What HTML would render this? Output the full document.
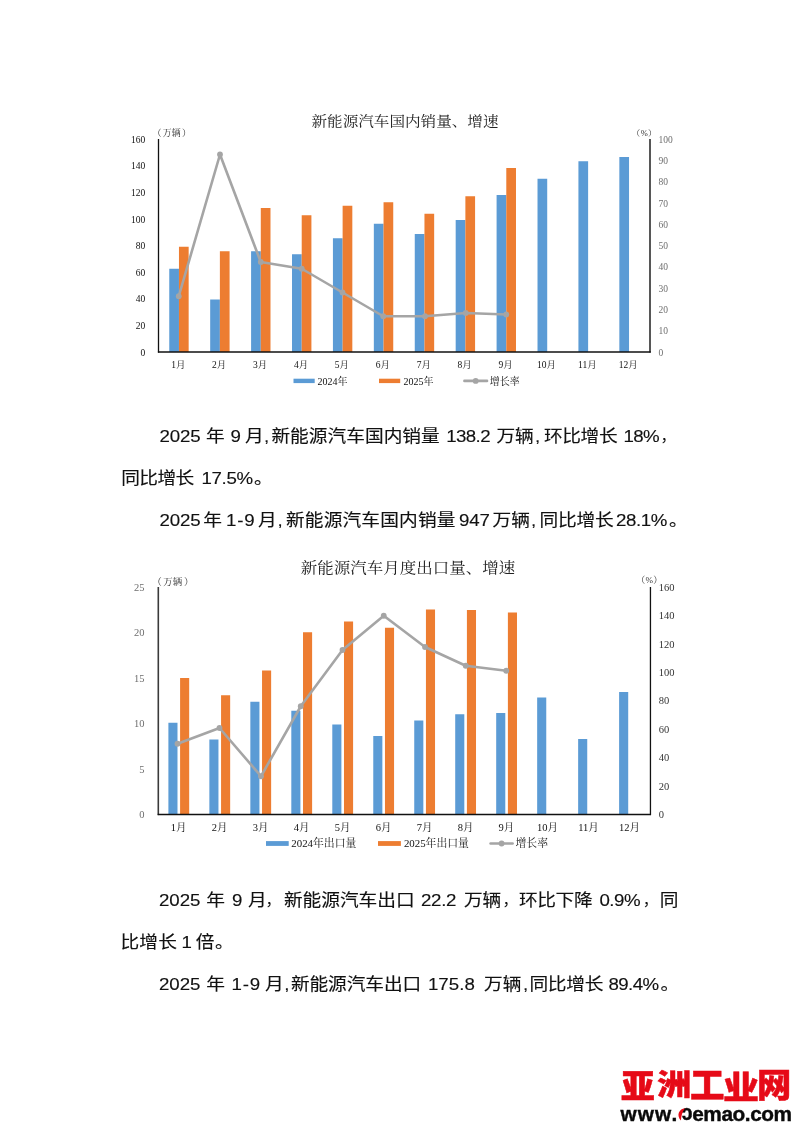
<!DOCTYPE html>
<html lang="zh-CN">
<head>
<meta charset="utf-8">
<title>新能源汽车国内销量、出口量</title>
<style>
html,body{margin:0;padding:0;background:#fff;}
body{width:800px;height:1131px;position:relative;overflow:hidden;}
svg{position:absolute;left:0;top:0;}
svg text{font-family:"Liberation Serif","Noto Serif CJK SC",serif;}
.ln{position:absolute;left:0;top:0;width:800px;height:0;font-family:"Liberation Sans","Noto Sans CJK SC",sans-serif;font-size:18.7px;line-height:24px;color:#111;transform:scaleY(0.925);transform-origin:0 18px;-webkit-text-stroke:0.15px #111;}
.ln span{position:absolute;white-space:nowrap;}
#logo1{position:absolute;font-family:"Liberation Sans","Noto Sans CJK SC",sans-serif;font-weight:900;color:#e60a17;white-space:nowrap;}
#logo2{position:absolute;font-family:"Liberation Sans","Noto Sans CJK SC",sans-serif;font-weight:700;color:#0a0a0a;white-space:nowrap;}
</style>
</head>
<body>

<svg width="800" height="1131" viewBox="0 0 800 1131">
<rect x="169.26" y="268.75" width="9.7" height="83.25" fill="#5b9bd5"/>
<rect x="210.18" y="299.5" width="9.7" height="52.5" fill="#5b9bd5"/>
<rect x="251.09" y="251.25" width="9.7" height="100.75" fill="#5b9bd5"/>
<rect x="292.01" y="254.25" width="9.7" height="97.75" fill="#5b9bd5"/>
<rect x="332.93" y="238.25" width="9.7" height="113.75" fill="#5b9bd5"/>
<rect x="373.84" y="223.75" width="9.7" height="128.25" fill="#5b9bd5"/>
<rect x="414.76" y="234" width="9.7" height="118" fill="#5b9bd5"/>
<rect x="455.68" y="220" width="9.7" height="132" fill="#5b9bd5"/>
<rect x="496.59" y="195" width="9.7" height="157" fill="#5b9bd5"/>
<rect x="537.51" y="178.75" width="9.7" height="173.25" fill="#5b9bd5"/>
<rect x="578.42" y="161.25" width="9.7" height="190.75" fill="#5b9bd5"/>
<rect x="619.34" y="157" width="9.7" height="195" fill="#5b9bd5"/>
<rect x="178.96" y="246.75" width="9.7" height="105.25" fill="#ed7d31"/>
<rect x="219.88" y="251.25" width="9.7" height="100.75" fill="#ed7d31"/>
<rect x="260.79" y="208" width="9.7" height="144" fill="#ed7d31"/>
<rect x="301.71" y="215.25" width="9.7" height="136.75" fill="#ed7d31"/>
<rect x="342.62" y="205.75" width="9.7" height="146.25" fill="#ed7d31"/>
<rect x="383.54" y="202.25" width="9.7" height="149.75" fill="#ed7d31"/>
<rect x="424.46" y="213.75" width="9.7" height="138.25" fill="#ed7d31"/>
<rect x="465.38" y="196.25" width="9.7" height="155.75" fill="#ed7d31"/>
<rect x="506.29" y="168" width="9.7" height="184" fill="#ed7d31"/>
<line x1="158.5" y1="139" x2="158.5" y2="352.6" stroke="#111" stroke-width="1.3"/>
<line x1="650" y1="139" x2="650" y2="352.6" stroke="#454545" stroke-width="1.8"/>
<line x1="157.9" y1="352" x2="650.8" y2="352" stroke="#111" stroke-width="1.5"/>
<polyline points="178.75,296.25 220,154.5 260.75,262 301.75,268.75 342.5,292.5 383.25,316.25 425,316.25 465.75,313 506.25,314.5" fill="none" stroke="#a5a5a5" stroke-width="2.6" stroke-linejoin="round" stroke-linecap="round"/>
<circle cx="178.75" cy="296.25" r="2.9" fill="#a5a5a5"/>
<circle cx="220" cy="154.5" r="2.9" fill="#a5a5a5"/>
<circle cx="260.75" cy="262" r="2.9" fill="#a5a5a5"/>
<circle cx="301.75" cy="268.75" r="2.9" fill="#a5a5a5"/>
<circle cx="342.5" cy="292.5" r="2.9" fill="#a5a5a5"/>
<circle cx="383.25" cy="316.25" r="2.9" fill="#a5a5a5"/>
<circle cx="425" cy="316.25" r="2.9" fill="#a5a5a5"/>
<circle cx="465.75" cy="313" r="2.9" fill="#a5a5a5"/>
<circle cx="506.25" cy="314.5" r="2.9" fill="#a5a5a5"/>
<text transform="translate(405 126.2) scale(1 0.9)" font-size="15.6" text-anchor="middle" fill="#222">新能源汽车国内销量、增速</text>
<text x="145.3" y="142.63" font-size="9.5" text-anchor="end" fill="#111">160</text>
<text x="145.3" y="169.26" font-size="9.5" text-anchor="end" fill="#111">140</text>
<text x="145.3" y="195.88" font-size="9.5" text-anchor="end" fill="#111">120</text>
<text x="145.3" y="222.51" font-size="9.5" text-anchor="end" fill="#111">100</text>
<text x="145.3" y="249.13" font-size="9.5" text-anchor="end" fill="#111">80</text>
<text x="145.3" y="275.76" font-size="9.5" text-anchor="end" fill="#111">60</text>
<text x="145.3" y="302.38" font-size="9.5" text-anchor="end" fill="#111">40</text>
<text x="145.3" y="329.01" font-size="9.5" text-anchor="end" fill="#111">20</text>
<text x="145.3" y="355.63" font-size="9.5" text-anchor="end" fill="#111">0</text>
<text x="658.5" y="142.63" font-size="9.5" text-anchor="start" fill="#6e6e6e">100</text>
<text x="658.5" y="163.94" font-size="9.5" text-anchor="start" fill="#6e6e6e">90</text>
<text x="658.5" y="185.23" font-size="9.5" text-anchor="start" fill="#6e6e6e">80</text>
<text x="658.5" y="206.53" font-size="9.5" text-anchor="start" fill="#6e6e6e">70</text>
<text x="658.5" y="227.83" font-size="9.5" text-anchor="start" fill="#6e6e6e">60</text>
<text x="658.5" y="249.13" font-size="9.5" text-anchor="start" fill="#6e6e6e">50</text>
<text x="658.5" y="270.44" font-size="9.5" text-anchor="start" fill="#6e6e6e">40</text>
<text x="658.5" y="291.74" font-size="9.5" text-anchor="start" fill="#6e6e6e">30</text>
<text x="658.5" y="313.03" font-size="9.5" text-anchor="start" fill="#6e6e6e">20</text>
<text x="658.5" y="334.33" font-size="9.5" text-anchor="start" fill="#6e6e6e">10</text>
<text x="658.5" y="355.63" font-size="9.5" text-anchor="start" fill="#6e6e6e">0</text>
<text x="171.7" y="136.2" font-size="9" text-anchor="middle" fill="#333">（<tspan dx="1.2">万辆</tspan><tspan dx="1.2">）</tspan></text>
<text x="644.2" y="136.3" font-size="8.5" text-anchor="middle" fill="#333">（<tspan dx="0.3">%</tspan><tspan dx="0.3">）</tspan></text>
<text x="178.26" y="368.3" font-size="9.5" text-anchor="middle" fill="#111">1月</text>
<text x="219.18" y="368.3" font-size="9.5" text-anchor="middle" fill="#111">2月</text>
<text x="260.09" y="368.3" font-size="9.5" text-anchor="middle" fill="#111">3月</text>
<text x="301.01" y="368.3" font-size="9.5" text-anchor="middle" fill="#111">4月</text>
<text x="341.93" y="368.3" font-size="9.5" text-anchor="middle" fill="#111">5月</text>
<text x="382.84" y="368.3" font-size="9.5" text-anchor="middle" fill="#111">6月</text>
<text x="423.76" y="368.3" font-size="9.5" text-anchor="middle" fill="#111">7月</text>
<text x="464.68" y="368.3" font-size="9.5" text-anchor="middle" fill="#111">8月</text>
<text x="505.59" y="368.3" font-size="9.5" text-anchor="middle" fill="#111">9月</text>
<text x="546.51" y="368.3" font-size="9.5" text-anchor="middle" fill="#111">10月</text>
<text x="587.42" y="368.3" font-size="9.5" text-anchor="middle" fill="#111">11月</text>
<text x="628.34" y="368.3" font-size="9.5" text-anchor="middle" fill="#111">12月</text>
<rect x="293.5" y="378.7" width="21.2" height="4.4" fill="#5b9bd5"/>
<text x="317.6" y="384.5" font-size="10" text-anchor="start" fill="#111">2024年</text>
<rect x="379" y="378.7" width="21.2" height="4.4" fill="#ed7d31"/>
<text x="403.4" y="384.5" font-size="10" text-anchor="start" fill="#111">2025年</text>
<line x1="464.4" y1="380.9" x2="487" y2="380.9" stroke="#a5a5a5" stroke-width="2.6" stroke-linecap="round"/>
<circle cx="475.7" cy="380.9" r="2.9" fill="#a5a5a5"/>
<text x="489.8" y="384.5" font-size="10" text-anchor="start" fill="#111">增长率</text>
</svg>
<svg width="800" height="1131" viewBox="0 0 800 1131">
<rect x="168.39" y="722.75" width="9.1" height="91.75" fill="#5b9bd5"/>
<rect x="209.36" y="739.5" width="9.1" height="75" fill="#5b9bd5"/>
<rect x="250.34" y="701.75" width="9.1" height="112.75" fill="#5b9bd5"/>
<rect x="291.31" y="710.75" width="9.1" height="103.75" fill="#5b9bd5"/>
<rect x="332.29" y="724.5" width="9.1" height="90" fill="#5b9bd5"/>
<rect x="373.26" y="736" width="9.1" height="78.5" fill="#5b9bd5"/>
<rect x="414.24" y="720.5" width="9.1" height="94" fill="#5b9bd5"/>
<rect x="455.21" y="714.25" width="9.1" height="100.25" fill="#5b9bd5"/>
<rect x="496.19" y="713" width="9.1" height="101.5" fill="#5b9bd5"/>
<rect x="537.16" y="697.5" width="9.1" height="117" fill="#5b9bd5"/>
<rect x="578.14" y="739" width="9.1" height="75.5" fill="#5b9bd5"/>
<rect x="619.11" y="692" width="9.1" height="122.5" fill="#5b9bd5"/>
<rect x="180.09" y="678" width="9.1" height="136.5" fill="#ed7d31"/>
<rect x="221.06" y="695.25" width="9.1" height="119.25" fill="#ed7d31"/>
<rect x="262.04" y="670.5" width="9.1" height="144" fill="#ed7d31"/>
<rect x="303.01" y="632.25" width="9.1" height="182.25" fill="#ed7d31"/>
<rect x="343.99" y="621.5" width="9.1" height="193" fill="#ed7d31"/>
<rect x="384.96" y="627.75" width="9.1" height="186.75" fill="#ed7d31"/>
<rect x="425.94" y="609.5" width="9.1" height="205" fill="#ed7d31"/>
<rect x="466.91" y="610" width="9.1" height="204.5" fill="#ed7d31"/>
<rect x="507.89" y="612.5" width="9.1" height="202" fill="#ed7d31"/>
<line x1="158.3" y1="587" x2="158.3" y2="815.1" stroke="#3a3a3a" stroke-width="1.6"/>
<line x1="650.45" y1="587" x2="650.45" y2="815.1" stroke="#111" stroke-width="1.3"/>
<line x1="157.7" y1="814.5" x2="650.8" y2="814.5" stroke="#111" stroke-width="1.5"/>
<polyline points="177.5,743.75 219.5,728 261,776.25 300.75,706.25 342.5,650 383.75,615.75 425,647 465.75,665.75 506.25,670.75" fill="none" stroke="#a5a5a5" stroke-width="2.6" stroke-linejoin="round" stroke-linecap="round"/>
<circle cx="177.5" cy="743.75" r="2.9" fill="#a5a5a5"/>
<circle cx="219.5" cy="728" r="2.9" fill="#a5a5a5"/>
<circle cx="261" cy="776.25" r="2.9" fill="#a5a5a5"/>
<circle cx="300.75" cy="706.25" r="2.9" fill="#a5a5a5"/>
<circle cx="342.5" cy="650" r="2.9" fill="#a5a5a5"/>
<circle cx="383.75" cy="615.75" r="2.9" fill="#a5a5a5"/>
<circle cx="425" cy="647" r="2.9" fill="#a5a5a5"/>
<circle cx="465.75" cy="665.75" r="2.9" fill="#a5a5a5"/>
<circle cx="506.25" cy="670.75" r="2.9" fill="#a5a5a5"/>
<text transform="translate(408 573) scale(1 0.9)" font-size="16.5" text-anchor="middle" fill="#222">新能源汽车月度出口量、增速</text>
<text x="144.6" y="590.67" font-size="10.5" text-anchor="end" fill="#6e6e6e">25</text>
<text x="144.6" y="636.17" font-size="10.5" text-anchor="end" fill="#6e6e6e">20</text>
<text x="144.6" y="681.67" font-size="10.5" text-anchor="end" fill="#6e6e6e">15</text>
<text x="144.6" y="727.17" font-size="10.5" text-anchor="end" fill="#6e6e6e">10</text>
<text x="144.6" y="772.67" font-size="10.5" text-anchor="end" fill="#6e6e6e">5</text>
<text x="144.6" y="818.17" font-size="10.5" text-anchor="end" fill="#6e6e6e">0</text>
<text x="658.8" y="590.67" font-size="10.5" text-anchor="start" fill="#333">160</text>
<text x="658.8" y="619.1" font-size="10.5" text-anchor="start" fill="#333">140</text>
<text x="658.8" y="647.54" font-size="10.5" text-anchor="start" fill="#333">120</text>
<text x="658.8" y="675.98" font-size="10.5" text-anchor="start" fill="#333">100</text>
<text x="658.8" y="704.42" font-size="10.5" text-anchor="start" fill="#333">80</text>
<text x="658.8" y="732.85" font-size="10.5" text-anchor="start" fill="#333">60</text>
<text x="658.8" y="761.29" font-size="10.5" text-anchor="start" fill="#333">40</text>
<text x="658.8" y="789.73" font-size="10.5" text-anchor="start" fill="#333">20</text>
<text x="658.8" y="818.17" font-size="10.5" text-anchor="start" fill="#333">0</text>
<text x="172.8" y="584.6" font-size="9.5" text-anchor="middle" fill="#333">（<tspan dx="1.6">万辆</tspan><tspan dx="1.6">）</tspan></text>
<text x="649.3" y="583" font-size="9" text-anchor="middle" fill="#333">（<tspan dx="0.3">%</tspan><tspan dx="0.3">）</tspan></text>
<text x="178.69" y="830.6" font-size="10.5" text-anchor="middle" fill="#111">1月</text>
<text x="219.66" y="830.6" font-size="10.5" text-anchor="middle" fill="#111">2月</text>
<text x="260.64" y="830.6" font-size="10.5" text-anchor="middle" fill="#111">3月</text>
<text x="301.61" y="830.6" font-size="10.5" text-anchor="middle" fill="#111">4月</text>
<text x="342.59" y="830.6" font-size="10.5" text-anchor="middle" fill="#111">5月</text>
<text x="383.56" y="830.6" font-size="10.5" text-anchor="middle" fill="#111">6月</text>
<text x="424.54" y="830.6" font-size="10.5" text-anchor="middle" fill="#111">7月</text>
<text x="465.51" y="830.6" font-size="10.5" text-anchor="middle" fill="#111">8月</text>
<text x="506.49" y="830.6" font-size="10.5" text-anchor="middle" fill="#111">9月</text>
<text x="547.46" y="830.6" font-size="10.5" text-anchor="middle" fill="#111">10月</text>
<text x="588.44" y="830.6" font-size="10.5" text-anchor="middle" fill="#111">11月</text>
<text x="629.41" y="830.6" font-size="10.5" text-anchor="middle" fill="#111">12月</text>
<rect x="266" y="841.1" width="22.7" height="4.8" fill="#5b9bd5"/>
<text x="291.3" y="847.41" font-size="10.85" text-anchor="start" fill="#111">2024年出口量</text>
<rect x="378" y="841.1" width="22.9" height="4.8" fill="#ed7d31"/>
<text x="403.9" y="847.41" font-size="10.85" text-anchor="start" fill="#111">2025年出口量</text>
<line x1="490.6" y1="843.5" x2="512.6" y2="843.5" stroke="#a5a5a5" stroke-width="2.6" stroke-linecap="round"/>
<circle cx="501.6" cy="843.5" r="2.9" fill="#a5a5a5"/>
<text x="515.5" y="847.41" font-size="10.85" text-anchor="start" fill="#111">增长率</text>
</svg>
<div class="ln" style="top:424px">
<span id="s0" style="left:159.4px;letter-spacing:-0.1px">2025</span><span id="s1" style="left:206px">年</span><span id="s2" style="left:230.62px">9</span><span id="s3" style="left:244.88px">月</span><span id="s4" style="left:264px">,</span><span id="s5" style="left:271.4px;letter-spacing:0.02px">新能源汽车国内销量</span><span id="s6" style="left:446.2px;letter-spacing:-0.6px">138.2</span><span id="s7" style="left:496.4px;letter-spacing:-0.05px">万辆</span><span id="s8" style="left:535px">,</span><span id="s9" style="left:543.9px;letter-spacing:-0.35px">环比增长</span><span id="s10" style="left:623.48px;letter-spacing:-0.6px">18%</span><span id="s11" style="left:660.75px;font-size:14.5px">，</span>
</div>
<div class="ln" style="top:466px">
<span id="s12" style="left:121.28px;letter-spacing:-0.6px">同比增长</span><span id="s13" style="left:201.4px;letter-spacing:-0.32px">17.5%</span><span id="s14" style="left:254.12px">。</span>
</div>
<div class="ln" style="top:508px">
<span id="s15" style="left:159.4px;letter-spacing:-0.1px">2025</span><span id="s16" style="left:203.25px">年</span><span id="s17" style="left:225.9px;letter-spacing:0.85px">1-9</span><span id="s18" style="left:257.88px">月</span><span id="s19" style="left:277.5px">,</span><span id="s20" style="left:285.9px;letter-spacing:0.18px">新能源汽车国内销量</span><span id="s21" style="left:458.9px;letter-spacing:-0.15px">947</span><span id="s22" style="left:492.4px;letter-spacing:0.2px">万辆</span><span id="s23" style="left:531px">,</span><span id="s24" style="left:539.4px;letter-spacing:-0.18px">同比增长</span><span id="s25" style="left:615.9px;letter-spacing:-0.39px">28.1%</span><span id="s26" style="left:669.12px">。</span>
</div>
<div class="ln" style="top:888px">
<span id="s27" style="left:158.9px;letter-spacing:-0.02px">2025</span><span id="s28" style="left:206.25px">年</span><span id="s29" style="left:231.88px">9</span><span id="s30" style="left:247.88px">月</span><span id="s31" style="left:265.75px;font-size:14.5px">，</span><span id="s32" style="left:283.9px;letter-spacing:-0.01px">新能源汽车出口</span><span id="s33" style="left:420.9px;letter-spacing:-0.27px">22.2</span><span id="s34" style="left:463.9px;letter-spacing:-0.05px">万辆</span><span id="s35" style="left:502.75px;font-size:14.5px">，</span><span id="s36" style="left:518.9px;letter-spacing:-0.35px">环比下降</span><span id="s37" style="left:599.4px;letter-spacing:-0.43px">0.9%</span><span id="s38" style="left:642.88px;font-size:14.5px">，</span><span id="s39" style="left:659.65px">同</span>
</div>
<div class="ln" style="top:930px">
<span id="s40" style="left:120.4px;letter-spacing:0.23px">比增长</span><span id="s41" style="left:181.38px">1</span><span id="s42" style="left:195.75px">倍</span><span id="s43" style="left:214.88px">。</span>
</div>
<div class="ln" style="top:972px">
<span id="s44" style="left:158.9px;letter-spacing:-0.02px">2025</span><span id="s45" style="left:206.25px">年</span><span id="s46" style="left:231.4px;letter-spacing:0.85px">1-9</span><span id="s47" style="left:264.88px">月</span><span id="s48" style="left:284.25px">,</span><span id="s49" style="left:290.9px;letter-spacing:-0.09px">新能源汽车出口</span><span id="s50" style="left:427.9px;letter-spacing:0.05px">175.8</span><span id="s51" style="left:483.9px;letter-spacing:0.2px">万辆</span><span id="s52" style="left:523px">,</span><span id="s53" style="left:529.4px;letter-spacing:-0.27px">同比增长</span><span id="s54" style="left:608.4px;letter-spacing:-0.57px">89.4%</span><span id="s55" style="left:660.62px">。</span>
</div>
<div id="logo1" style="left:0;top:0;font-size:28px;line-height:40px;-webkit-text-stroke:0.4px #e60a17;color:#e60a17"><span style="position:absolute;left:621.25px;top:1063.88px;transform-origin:0 0;transform:scale(1.205,1.188)">亚</span><span style="position:absolute;left:656.9px;top:1063.59px;transform-origin:0 0;transform:scale(1.226,1.063)">洲</span><span style="position:absolute;left:690.27px;top:1061.28px;transform-origin:0 0;transform:scale(1.231,1.274)">工</span><span style="position:absolute;left:722.71px;top:1065.69px;transform-origin:0 0;transform:scale(1.288,1.127)">业</span><span style="position:absolute;left:756.95px;top:1063.23px;transform-origin:0 0;transform:scale(1.225,1.162)">网</span></div>
<div id="logo2" style="left:0;top:1101.0px;font-size:20.8px;line-height:26px;-webkit-text-stroke:0.4px #0a0a0a"><span id="lg_w" style="position:absolute;left:620.5px;letter-spacing:1.1px">www.</span><span id="lg_c" style="position:absolute;left:680.9px;top:1.3px;font-size:22px;transform:rotate(180deg) scaleX(0.88);transform-origin:50% 50%;-webkit-text-stroke:0.5px #0a0a0a;">c</span><span id="lg_e" style="position:absolute;left:692.2px;letter-spacing:-0.42px">emao.com</span></div>
<svg id="swirl" width="800" height="1131" viewBox="0 0 800 1131">
<path d="M685 1108.2 C679.3 1108.8 675.9 1114.8 680.9 1120.6 C681.2 1116.4 682 1112 685 1108.2 Z" fill="#e60a17"/>
</svg>
</body>
</html>
